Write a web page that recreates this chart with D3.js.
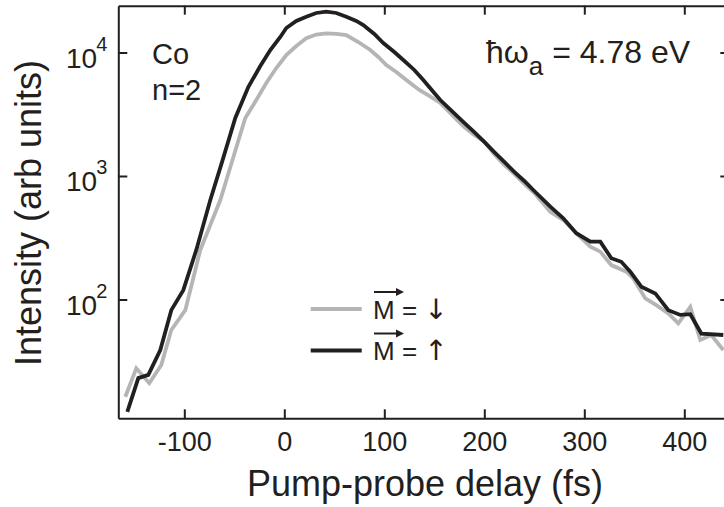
<!DOCTYPE html>
<html>
<head>
<meta charset="utf-8">
<script src="https://cdn.jsdelivr.net/npm/d3@7"></script>
<style>
  body { margin: 0; background: #fff; }
  svg { display: block; font-family: "Liberation Sans", Arial, Helvetica, sans-serif; }
</style>
</head>
<body>
<svg id="chart" width="724" height="507"></svg>
<script>
// M = up (black)
const delayUp = [-157, -146, -136, -124, -113, -101, -88, -74, -62, -49,
  -36, -24, -14, -4, 2, 12, 22, 32, 42, 52,
  62, 72, 79, 90, 99, 110, 119, 130, 139, 150,
  156, 170, 180, 190, 200, 210, 220, 230, 240, 250,
  266, 279, 292, 306, 316, 327, 337, 346, 357, 371,
  384, 396, 406, 417, 439];
const intensityUp = [12.3, 23.1, 24.5, 39, 82, 119, 252, 639, 1320, 2950,
  5250, 7780, 10480, 13350, 15790, 18000, 19500, 20890, 21400, 20890,
  19500, 18000, 16700, 14120, 11940, 10090, 8700, 7220, 5990, 4700,
  4120, 3210, 2690, 2270, 1890, 1560, 1300, 1080, 911, 756,
  564, 455, 344, 294, 294, 216, 202, 168, 127, 112,
  82, 75, 76, 53, 51.6];

// M = down (grey)
const delayDown = [-159, -148, -135, -123, -113, -99, -84, -64, -50, -39,
  -28, -18, -8, 2, 12, 22, 32, 42, 52, 62,
  74, 86, 94, 102, 112, 122, 135, 145, 156, 170,
  180, 190, 200, 210, 220, 230, 240, 250, 266, 279,
  292, 306, 316, 327, 342, 349, 361, 372, 384, 394,
  406, 416, 427, 439];
const intensityDown = [16.3, 27.7, 21, 29.5, 56.6, 82, 252, 639, 1508, 2950,
  4120, 5660, 7490, 9545, 11290, 13030, 13985, 14305, 14170, 13860,
  12160, 10480, 9200, 7920, 6950, 5990, 4970, 4445, 3900, 3000,
  2490, 2150, 1900, 1500, 1230, 1040, 862, 728, 514, 440,
  344, 268, 244, 190, 168, 148, 102, 90, 77, 64,
  87, 47, 51.6, 39];

const xTicks = [-100, 0, 100, 200, 300, 400];
const yTicks = [100, 1000, 10000];
const yExponents = ["2", "3", "4"];

const ink = "#231f20", grey = "#b5b5b5";

const svg = d3.select("#chart");
const margin = { left: 118.3, top: 5.7, right: 729.3, bottom: 418.3 };

const x = d3.scaleLinear().domain([-166, 445]).range([margin.left, margin.right]);
const y = d3.scaleLog().domain([10.915, 23929]).range([margin.bottom, margin.top]);

// curves
const line = d3.line().x((d) => x(d[0])).y((d) => y(d[1]));
const seriesDown = delayDown.map((d, i) => [d, intensityDown[i]]);
const seriesUp = delayUp.map((d, i) => [d, intensityUp[i]]);

svg.append("path").datum(seriesDown)
  .attr("d", line).attr("fill", "none")
  .attr("stroke", grey).attr("stroke-width", 3.8);
svg.append("path").datum(seriesUp)
  .attr("d", line).attr("fill", "none")
  .attr("stroke", ink).attr("stroke-width", 3.8);

// axes
const styleAxis = (g) => {
  g.select(".domain").attr("stroke", ink).attr("stroke-width", 2);
  g.selectAll(".tick line").attr("stroke", ink).attr("stroke-width", 2);
};

svg.append("g")
  .attr("transform", "translate(0," + margin.bottom + ")")
  .call(d3.axisBottom(x).tickValues(xTicks).tickSize(-9).tickSizeOuter(0).tickPadding(14)
    .tickFormat((d) => String(d)))
  .call(styleAxis)
  .call((g) => g.attr("font-family", null).selectAll("text")
    .attr("fill", ink).attr("font-size", 27));

svg.append("g")
  .attr("transform", "translate(0," + margin.top + ")")
  .call(d3.axisTop(x).tickValues(xTicks).tickSize(-9).tickSizeOuter(0).tickFormat(""))
  .call(styleAxis);

const gY = svg.append("g")
  .attr("transform", "translate(" + margin.left + ",0)")
  .call(d3.axisLeft(y).tickValues(yTicks).tickSize(-9).tickSizeOuter(0).tickFormat(""))
  .call(styleAxis)
  .attr("font-family", null);

gY.selectAll(".tick").append("text")
  .attr("x", -11).attr("y", 15).attr("text-anchor", "end")
  .attr("fill", ink).attr("font-size", 28)
  .each(function (d, i) {
    const t = d3.select(this);
    t.append("tspan").text("10");
    t.append("tspan").attr("dy", -17).attr("dx", -1)
      .attr("font-size", 20).text(yExponents[i]);
  });

svg.append("g")
  .attr("transform", "translate(" + margin.right + ",0)")
  .call(d3.axisRight(y).tickValues(yTicks).tickSize(-9).tickSizeOuter(0).tickFormat(""))
  .call(styleAxis);

// axis titles
svg.append("text")
  .attr("x", 425).attr("y", 496).attr("text-anchor", "middle")
  .attr("font-size", 36).attr("fill", ink)
  .text("Pump-probe delay (fs)");

svg.append("text")
  .attr("transform", "translate(41,213) rotate(-90)")
  .attr("text-anchor", "middle")
  .attr("font-size", 36).attr("fill", ink)
  .text("Intensity (arb units)");

// annotations
svg.append("text").attr("x", 152).attr("y", 64)
  .attr("font-size", 29).attr("fill", ink).text("Co");
svg.append("text").attr("x", 152).attr("y", 100)
  .attr("font-size", 29).attr("fill", ink).text("n=2");

const energy = svg.append("text").attr("x", 486).attr("y", 63)
  .attr("font-size", 32).attr("fill", ink);
energy.append("tspan").text("ħω");
energy.append("tspan").attr("dy", 12).attr("font-size", 26).text("a");
energy.append("tspan").attr("dy", -12).text(" = 4.78 eV");

// legend
const legendRows = [
  { color: grey, arrow: "↓", y: 309 },
  { color: ink, arrow: "↑", y: 350.5 },
];
const leg = svg.append("g");
legendRows.forEach((r) => {
  leg.append("line")
    .attr("x1", 310.7).attr("x2", 361.7)
    .attr("y1", r.y).attr("y2", r.y)
    .attr("stroke", r.color).attr("stroke-width", 4);
  const t = leg.append("text")
    .attr("x", 373).attr("y", r.y + 9.5)
    .attr("font-size", 26).attr("fill", ink);
  t.append("tspan").text("M = ");
  t.append("tspan").attr("font-family", "DejaVu Sans").attr("font-size", 28)
    .attr("fill", ink).text(r.arrow);
  // vector arrow over M
  const ay = r.y - 17;
  leg.append("line")
    .attr("x1", 374).attr("x2", 398)
    .attr("y1", ay).attr("y2", ay)
    .attr("stroke", ink).attr("stroke-width", 2);
  leg.append("path")
    .attr("d", "M" + 396 + "," + (ay - 4) + "L" + 404 + "," + ay + "L" + 396 + "," + (ay + 4) + "Z")
    .attr("fill", ink);
});
</script>
</body>
</html>
